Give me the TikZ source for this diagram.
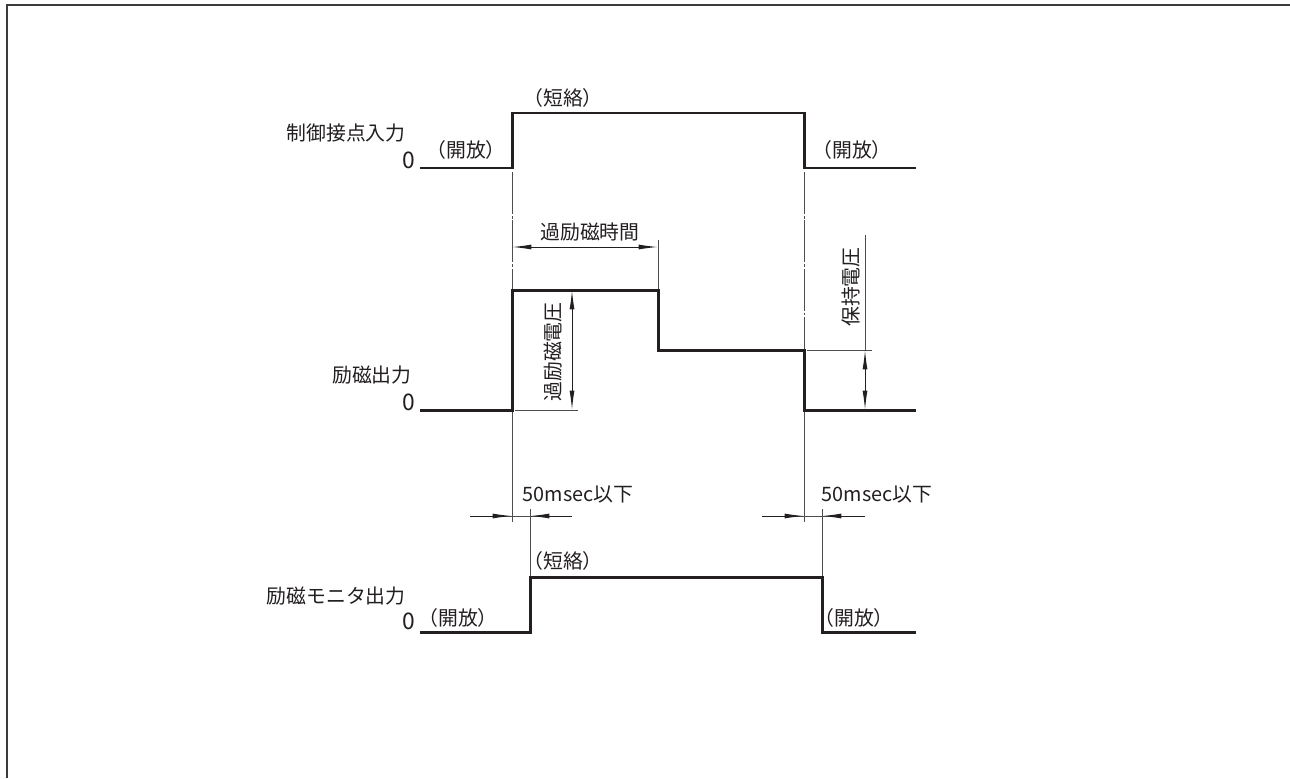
\documentclass[tikz,border=0pt]{standalone}
\usepackage{fontspec}
\setmainfont{Noto Sans CJK JP}
\usetikzlibrary{arrows.meta,positioning}
\definecolor{inkdark}{HTML}{231F20}
\definecolor{framegray}{HTML}{3C3C3C}
\definecolor{guidegray}{HTML}{4D4D4D}
\tikzset{
  sig/.style={line width=1.7pt,draw=inkdark,line join=miter},
  guide/.style={line width=0.55pt,draw=guidegray},
  chain/.style={guide,dash pattern=on 24pt off 1pt on 1.5pt off 1pt},
  dimarr/.style={line width=0.55pt,draw=inkdark,
    {Latex[length=11pt,width=2.8pt]}-{Latex[length=11pt,width=2.8pt]}},
  onearr/.style={line width=0.55pt,draw=inkdark,-{Latex[length=11pt,width=2.8pt]}},
  lbl/.style={font=\fontsize{11.3pt}{13pt}\selectfont,text=inkdark,inner sep=0pt},
  zero/.style={lbl,font=\fontsize{13pt}{14pt}\selectfont,anchor=south east},
}

\begin{document}
\begin{tikzpicture}[x=0.02cm,y=-0.02cm]
  \useasboundingbox (0,0) rectangle (1290,778);
  \draw[framegray,line width=1.4pt] (7,778) -- (7,5) -- (1290,5);

  % guide lines
  \draw[chain] (512,172) -- (512,290);
  \draw[guide] (512,410) -- (512,522);
  \draw[chain] (804,172) -- (804,350);
  \draw[guide] (804,410) -- (804,522);
  \draw[guide] (658,240) -- (658,290);
  \draw[guide] (515,410) -- (578,410);
  \draw[guide] (807,350) -- (872,350);
  \draw[guide] (530,509) -- (530,577);
  \draw[guide] (822,509) -- (822,577);

  % signals
  \draw[sig] (420,168) -- (512,168) -- (512,113) -- (804,113) -- (804,168) -- (916,168);
  \draw[sig] (420,410) -- (512,410) -- (512,290) -- (658,290) -- (658,350)
    -- (804,350) -- (804,410) -- (916,410);
  \draw[sig] (420,632) -- (530,632) -- (530,577) -- (822,577) -- (822,632) -- (916,632);

  % dimensions
  \draw[dimarr] (512,247) -- (658,247);
  \draw[dimarr] (572,290) -- (572,410);
  \draw[guide] (865,235) -- (865,350);
  \draw[dimarr] (865,350) -- (865,410);
  \draw[guide] (470,516) -- (572,516);
  \draw[onearr] (470,516) -- (512,516);
  \draw[onearr] (572,516) -- (530,516);
  \draw[guide] (762,516) -- (865,516);
  \draw[onearr] (762,516) -- (804,516);
  \draw[onearr] (865,516) -- (822,516);

  % labels
  \node[lbl,anchor=east] (ctrlname) at (406,133) {制御接点入力};
  \node[zero] (ctrlzero) at (416,169) {0};
  \node[lbl] (ctrlopenL) at (466,150) {（開放）};
  \node[lbl] (ctrlshort) at (563,98) {（短絡）};
  \node[lbl] (ctrlopenR) at (852,150) {（開放）};
  \node[lbl] (ovtime) at (590,232) {過励磁時間};
  \node[lbl,rotate=90] (ovvolt) at (553,352) {過励磁電圧};
  \node[lbl,rotate=90] (holdvolt) at (851,287) {保持電圧};
  \node[lbl,anchor=east] (exname) at (412,375) {励磁出力};
  \node[zero] (exzero) at (416,411) {0};
  \node[lbl] (delayL) at (578,494) {50msec以下};
  \node[lbl] (delayR) at (877,494) {50msec以下};
  \node[lbl,anchor=east] (monname) at (406,596) {励磁モニタ出力};
  \node[zero] (monzero) at (416,630) {0};
  \node[lbl] (monopenL) at (458,618) {（開放）};
  \node[lbl] (monshort) at (563,561) {（短絡）};
  \node[lbl] (monopenR) at (854,618) {（開放）};
\end{tikzpicture}
\end{document}
